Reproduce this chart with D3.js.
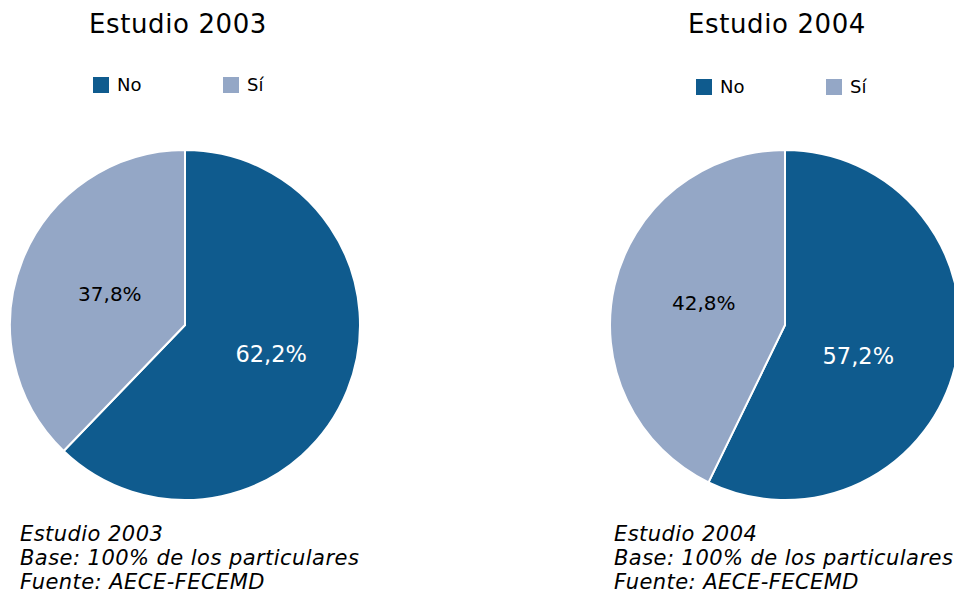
<!DOCTYPE html>
<html><head><meta charset="utf-8">
<script src="https://cdn.jsdelivr.net/npm/d3@7"></script>
<style>body{margin:0;background:#fff}svg{display:block;font-family:"DejaVu Sans",Verdana,sans-serif}</style>
</head><body><svg id="c" width="954" height="594"></svg>
<script>
const categories = ["No", "Sí"];
const titles = ["Estudio 2003", "Estudio 2004"];
const values2003 = [62.2, 37.8];
const values2004 = [57.2, 42.8];
const footnotes2003 = ["Estudio 2003", "Base: 100% de los particulares", "Fuente: AECE-FECEMD"];
const footnotes2004 = ["Estudio 2004", "Base: 100% de los particulares", "Fuente: AECE-FECEMD"];
const colors = ["#0F5B8E", "#94A7C6"];
const labelColors = ["#ffffff", "#000000"];

const svg = d3.select("#c");
const color = d3.scaleOrdinal().domain(categories).range(colors);
const R = 175;
const panels = [
  {title: titles[0], values: values2003, foot: footnotes2003, cx: 185, cy: 325, tx: 178, lx: 93, fx: 20, ly: 77,
   nudge: [[5, -4], [6, 2]]},
  {title: titles[1], values: values2004, foot: footnotes2004, cx: 785, cy: 325, tx: 777, lx: 696, fx: 614, ly: 79,
   nudge: [[-12, 11], [4, -3]]}
];
const pie = d3.pie().sort(null).value(d => d.v);
const arc = d3.arc().innerRadius(0).outerRadius(R);
const labelArc = d3.arc().innerRadius(R*0.5).outerRadius(R*0.5);
const fmt = v => d3.format(".1f")(v).replace(".", ",") + "%";

panels.forEach(p => {
  const g = svg.append("g");
  g.append("text").attr("x", p.tx).attr("y", 33).attr("text-anchor", "middle")
    .attr("font-size", 26).attr("letter-spacing", 0.6).attr("fill", "#000").text(p.title);
  const lg = g.append("g").attr("transform", `translate(${p.lx},${p.ly})`);
  categories.forEach((c, i) => {
    const it = lg.append("g").attr("transform", `translate(${i*130},0)`);
    it.append("rect").attr("width", 16).attr("height", 16).attr("fill", color(c));
    it.append("text").attr("x", 24).attr("y", 14).attr("font-size", 18).text(c);
  });
  const data = categories.map((c, i) => ({c, v: p.values[i], i}));
  const pg = g.append("g").attr("transform", `translate(${p.cx},${p.cy})`);
  const arcs = pie(data);
  pg.selectAll("path").data(arcs).join("path")
    .attr("d", arc).attr("fill", d => color(d.data.c))
    .attr("stroke", "#fff").attr("stroke-width", 2);
  pg.selectAll("text").data(arcs).join("text")
    .attr("transform", d => { const [x, y] = labelArc.centroid(d); const n = p.nudge[d.data.i]; return `translate(${x + n[0]},${y + n[1]})`; })
    .attr("text-anchor", "middle").attr("dy", "0.36em")
    .attr("font-size", d => d.data.i ? 20 : 22.5)
    .attr("fill", d => labelColors[d.data.i]).text(d => fmt(d.data.v));
  g.selectAll(".fn").data(p.foot).join("text").attr("class", "fn")
    .attr("x", p.fx).attr("y", (d, i) => 540.5 + i*24.3)
    .attr("font-size", 21).attr("font-style", "italic").attr("letter-spacing", 0.45).attr("fill", "#000").text(d => d);
});
</script></body></html>
